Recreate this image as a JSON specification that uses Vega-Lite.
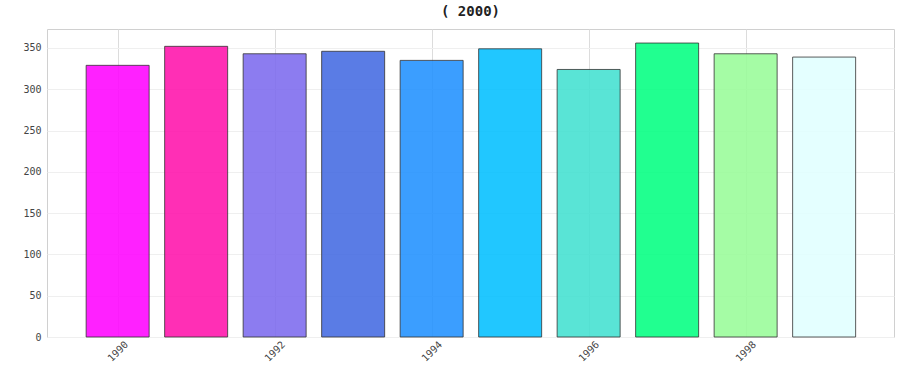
{
  "$schema": "https://vega.github.io/schema/vega-lite/v6.json",
  "autosize": {"type": "none"},
  "padding": {"left": 47, "top": 29, "right": 6, "bottom": 45},
  "width": 847,
  "height": 308,
  "background": "white",
  "title": {"text": "( 2000)", "fontSize": 14, "font": "DejaVu Sans Mono", "fontWeight": "bold", "color": "#222", "offset": 10},
  "config": {
    "view": {"stroke": "#d0d0d0", "strokeWidth": 1},
    "axis": {"labelFont": "DejaVu Sans Mono", "labelColor": "#444", "labelFontSize": 10, "domain": false, "ticks": false, "title": null}
  },
  "data": {"values": [
    {"year": 1990, "value": 329},
    {"year": 1991, "value": 352},
    {"year": 1992, "value": 343},
    {"year": 1993, "value": 346},
    {"year": 1994, "value": 335},
    {"year": 1995, "value": 349},
    {"year": 1996, "value": 324},
    {"year": 1997, "value": 356},
    {"year": 1998, "value": 343},
    {"year": 1999, "value": 339}
  ]},
  "mark": {"type": "bar", "width": 63, "fillOpacity": 0.87, "stroke": "#333", "strokeWidth": 1, "strokeOpacity": 0.8},
  "encoding": {
    "x": {"field": "year", "type": "quantitative",
      "scale": {"domain": [1989.1, 1999.89], "nice": false, "zero": false, "padding": 0},
      "axis": {"values": [1990, 1992, 1994, 1996, 1998], "format": "d", "labelAngle": -45, "labelAlign": "right", "labelBaseline": "top", "labelPadding": 2, "labelOffset": 5, "gridColor": "#dcdcdc", "gridWidth": 1}},
    "y": {"field": "value", "type": "quantitative",
      "scale": {"domain": [0, 373], "nice": false},
      "axis": {"values": [0, 50, 100, 150, 200, 250, 300, 350], "labelPadding": 6, "gridColor": "#efefef"}},
    "color": {"field": "year", "type": "nominal", "legend": null,
      "scale": {"domain": [1990, 1991, 1992, 1993, 1994, 1995, 1996, 1997, 1998, 1999],
        "range": ["#ff00ff", "#ff10aa", "#7b68ee", "#4169e1", "#1e90ff", "#00bfff", "#40e0d0", "#00ff7f", "#98fb98", "#e0ffff"]}}
  }
}
